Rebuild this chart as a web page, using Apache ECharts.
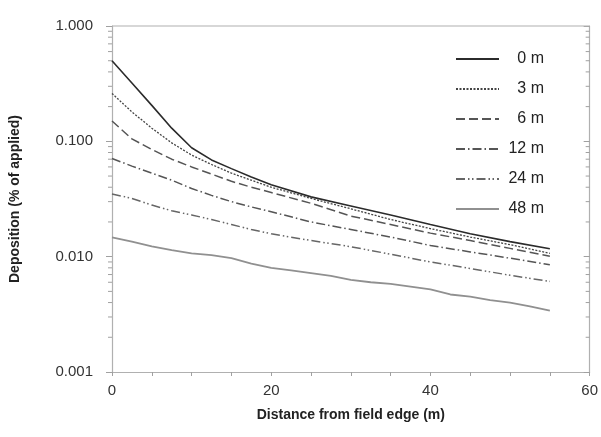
<!DOCTYPE html>
<html>
<head>
<meta charset="utf-8">
<script src="https://cdn.jsdelivr.net/npm/echarts@6/dist/echarts.min.js"></script>
<style>
  html, body { margin: 0; padding: 0; background: #fff; }
  #chart { width: 601px; height: 437px; }
</style>
</head>
<body>
<div id="chart"></div>
<script>
// Downwind distance (m) at which deposition was evaluated
var distances = [0, 2.5, 5, 7.5, 10, 12.5, 15, 17.5, 20, 25, 30, 35, 40, 45, 50, 55];
var distances48 = [0, 2.5, 5, 7.5, 10, 12.5, 15, 17.5, 20, 22.5, 25, 27.5, 30, 32.5, 35, 37.5, 40, 42.5, 45, 47.5, 50, 52.5, 55];

// Deposition (% of applied) for each buffer width
var dep0m  = [0.50, 0.32, 0.205, 0.13, 0.088, 0.069, 0.058, 0.049, 0.042, 0.033, 0.0275, 0.023, 0.019, 0.0158, 0.0135, 0.0117];
var dep3m  = [0.26, 0.18, 0.13, 0.097, 0.076, 0.063, 0.053, 0.046, 0.040, 0.032, 0.026, 0.021, 0.0175, 0.0148, 0.0127, 0.0107];
var dep6m  = [0.15, 0.105, 0.085, 0.070, 0.060, 0.052, 0.045, 0.040, 0.036, 0.029, 0.0225, 0.019, 0.016, 0.0138, 0.0118, 0.0101];
var dep12m = [0.071, 0.061, 0.053, 0.046, 0.039, 0.034, 0.030, 0.027, 0.0245, 0.020, 0.0172, 0.0148, 0.0125, 0.0110, 0.0097, 0.0085];
var dep24m = [0.035, 0.032, 0.028, 0.025, 0.023, 0.021, 0.019, 0.0172, 0.0158, 0.0138, 0.0122, 0.0105, 0.0090, 0.0079, 0.0069, 0.0061];
var dep48m = [0.0147, 0.0135, 0.0123, 0.0114, 0.0107, 0.0103, 0.0097, 0.0087, 0.0080, 0.0076, 0.0072, 0.0068, 0.0063, 0.0060, 0.0058, 0.0055, 0.0052, 0.0047, 0.0045, 0.0042, 0.0040, 0.0037, 0.0034];

var seriesNames = ['0 m', '3 m', '6 m', '12 m', '24 m', '48 m'];

// Log-axis tick values: the 2..9 steps inside each decade
var decadeStarts = [0.001, 0.01, 0.1];
var minorTickValues = [];
decadeStarts.forEach(function (base) {
  for (var k = 2; k <= 9; k++) minorTickValues.push(+(k * base).toPrecision(3));
});

function pairs(xs, ys) {
  return xs.map(function (x, i) { return [x, ys[i]]; });
}

var axisGray = '#b0b0b0';
var tickGray = '#a0a0a0';

// Short horizontal ticks along the left (outward) and right (inward) frame edges
function tickRenderer(len) {
  return function (params, api) {
    var v = api.value(1);
    var left = api.coord([0, v]);
    var right = api.coord([60, v]);
    var style = { stroke: tickGray, lineWidth: 1, fill: null };
    return {
      type: 'group',
      children: [
        { type: 'line', shape: { x1: left[0] - len, y1: left[1], x2: left[0], y2: left[1] }, style: style },
        { type: 'line', shape: { x1: right[0] - len, y1: right[1], x2: right[0], y2: right[1] }, style: style }
      ]
    };
  };
}

var lineStyles = [
  { color: '#2b2b2b', width: 1.6, type: 'solid' },
  { color: '#444', width: 1.3, type: [2, 1.5] },
  { color: '#555', width: 1.5, type: [9, 4] },
  { color: '#555', width: 1.5, type: [9, 3, 1.5, 3] },
  { color: '#666', width: 1.5, type: [9, 3, 1.5, 2.5, 1.5, 3] },
  { color: '#909090', width: 1.8, type: 'solid' }
];

var allData = [
  pairs(distances, dep0m),
  pairs(distances, dep3m),
  pairs(distances, dep6m),
  pairs(distances, dep12m),
  pairs(distances, dep24m),
  pairs(distances48, dep48m)
];

var lineSeries = seriesNames.map(function (name, i) {
  return {
    name: name,
    type: 'line',
    data: allData[i],
    showSymbol: false,
    symbol: 'none',
    smooth: false,
    lineStyle: lineStyles[i],
    itemStyle: { color: lineStyles[i].color },
    z: 3
  };
});

var chart = echarts.init(document.getElementById('chart'), null, { renderer: 'canvas' });

chart.setOption({
  animation: false,
  backgroundColor: '#ffffff',
  textStyle: { fontFamily: 'Liberation Sans, Arial, sans-serif' },
  grid: { left: 112, right: 11, top: 26, bottom: 65 },
  legend: {
    orient: 'vertical',
    left: 450,
    top: 46,
    itemWidth: 43,
    itemHeight: 14,
    itemGap: 14,
    data: seriesNames,
    itemStyle: { opacity: 0 },
    formatter: function (name) { return '{t|' + name + '}'; },
    textStyle: {
      rich: {
        t: { width: 40, align: 'right', fontSize: 16, color: '#222', fontFamily: 'Liberation Sans, Arial, sans-serif' }
      }
    }
  },
  xAxis: {
    type: 'value',
    min: 0,
    max: 60,
    interval: 20,
    name: 'Distance from field edge (m)',
    nameLocation: 'middle',
    nameGap: 36,
    nameTextStyle: { fontSize: 14, fontWeight: 'bold', color: '#222' },
    axisLine: { show: true, lineStyle: { color: axisGray, width: 1.2 } },
    axisTick: { show: true, length: 4, lineStyle: { color: tickGray } },
    minorTick: { show: true, splitNumber: 4, length: 4, lineStyle: { color: tickGray } },
    axisLabel: { fontSize: 15, color: '#333', margin: 11 },
    splitLine: { show: false }
  },
  yAxis: [{
    type: 'log',
    logBase: 10,
    min: 0.001,
    max: 1,
    name: 'Deposition (% of applied)',
    nameLocation: 'middle',
    nameGap: 90,
    nameRotate: 90,
    nameTextStyle: { fontSize: 14, fontWeight: 'bold', color: '#222' },
    axisLine: { show: true, lineStyle: { color: axisGray, width: 1.2 } },
    axisTick: { show: true, length: 6, lineStyle: { color: tickGray } },
    axisLabel: {
      fontSize: 15,
      color: '#333',
      margin: 19,
      formatter: function (v) { return v.toFixed(3); }
    },
    splitLine: { show: false }
  }, {
    type: 'log',
    logBase: 10,
    min: 0.001,
    max: 1,
    position: 'right',
    axisLine: { show: true, lineStyle: { color: axisGray, width: 1.2 } },
    axisTick: { show: true, inside: true, length: 6, lineStyle: { color: tickGray } },
    axisLabel: { show: false },
    splitLine: { show: false }
  }],
  series: lineSeries.concat([{
    name: 'minor ticks',
    type: 'custom',
    renderItem: tickRenderer(4),
    data: minorTickValues.map(function (v) { return [0, v]; }),
    encode: { x: 0, y: 1 },
    clip: false,
    silent: true,
    z: 1
  }, {
    name: 'frame top',
    type: 'line',
    data: [[0, 1], [60, 1]],
    symbol: 'none',
    lineStyle: { color: axisGray, width: 1.2 },
    silent: true,
    clip: false,
    z: 1
  }])
});
</script>
</body>
</html>
